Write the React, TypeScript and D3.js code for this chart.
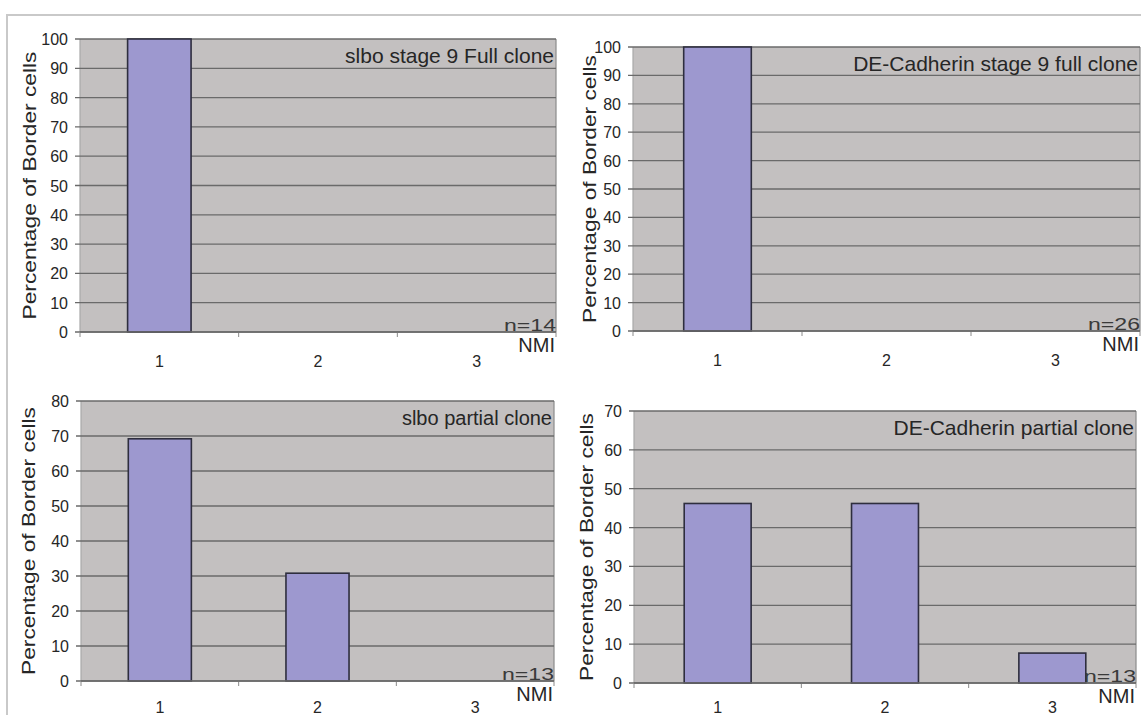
import React, { useEffect, useRef } from 'react';
import * as d3 from 'd3';

// chart data
const categories = ['1', '2', '3'];
const slboFull = [100, 0, 0];
const cadherinFull = [100, 0, 0];
const slboPartial = [69.2, 30.8, 0];
const cadherinPartial = [46.2, 46.2, 7.7];
const panelTitles = [
  'slbo stage 9 Full clone',
  'DE-Cadherin stage 9 full clone',
  'slbo partial clone',
  'DE-Cadherin partial clone',
];
const sampleSizes = ['n=14', 'n=26', 'n=13', 'n=13'];
const yMaxima = [100, 100, 80, 70];
const yTitle = 'Percentage of Border cells';
const xTitle = 'NMI';

// panel placement in the page
const layout = [
  { left: 80, right: 556, top: 39, bottom: 332, titleX: 29, titleSize: 21 },
  { left: 633, right: 1140, top: 47, bottom: 331, titleX: 589, titleSize: 21 },
  { left: 81, right: 554, top: 401, bottom: 681, titleX: 28, titleSize: 20 },
  { left: 634, right: 1136, top: 411, bottom: 683, titleX: 586, titleSize: 21 },
];

const App: React.FC = () => {
  const svgRef = useRef<SVGSVGElement | null>(null);

  useEffect(() => {
    document.body.style.margin = '0';
    if (!svgRef.current) return;
    const svg = d3.select(svgRef.current);
    svg.selectAll('*').remove();

    const font = '"Liberation Sans", Arial, sans-serif';
    const textColor = '#262626';
    const seriesList = [slboFull, cadherinFull, slboPartial, cadherinPartial];

    // outer frame
    svg.append('rect').attr('width', 1141).attr('height', 715).attr('fill', '#fff');
    svg.append('path')
      .attr('d', 'M7,716 V15 H1142')
      .attr('fill', 'none')
      .attr('stroke', '#c9c9c9')
      .attr('stroke-width', 2);

    seriesList.forEach((values, i) => {
      const L = layout[i];
      const g = svg.append('g');

      const x = d3.scaleBand<string>()
        .domain(categories)
        .range([L.left, L.right])
        .paddingInner(0.6)
        .paddingOuter(0.3);
      const step = (L.right - L.left) / categories.length;

      const y = d3.scaleLinear()
        .domain([0, yMaxima[i]])
        .range([L.bottom, L.top]);

      // plot area
      g.append('rect')
        .attr('x', L.left)
        .attr('y', L.top)
        .attr('width', L.right - L.left)
        .attr('height', L.bottom - L.top)
        .attr('fill', '#c3c0c0');
      g.append('line')
        .attr('x1', L.right).attr('x2', L.right)
        .attr('y1', L.top).attr('y2', L.bottom)
        .attr('stroke', '#8a8a8a').attr('stroke-width', 1.2);
      g.append('line')
        .attr('x1', L.left).attr('x2', L.left)
        .attr('y1', L.top).attr('y2', L.bottom)
        .attr('stroke', '#a8a8a8').attr('stroke-width', 1.2);

      // gridlines
      const ticks = d3.range(0, yMaxima[i] + 1, 10);
      g.selectAll('.grid')
        .data(ticks)
        .enter()
        .append('line')
        .attr('x1', L.left - 5)
        .attr('x2', L.right)
        .attr('y1', d => y(d))
        .attr('y2', d => y(d))
        .attr('stroke', '#6a6a6a')
        .attr('stroke-width', 1.3);

      // y tick labels
      g.selectAll('.ylab')
        .data(ticks)
        .enter()
        .append('text')
        .attr('x', L.left - 12)
        .attr('y', d => y(d) + 6)
        .attr('text-anchor', 'end')
        .attr('font-family', font)
        .attr('font-size', 16)
        .attr('fill', textColor)
        .text(d => d);

      // x tick marks at category boundaries
      g.selectAll('.xtick')
        .data(d3.range(categories.length + 1))
        .enter()
        .append('line')
        .attr('x1', d => L.left + d * step)
        .attr('x2', d => L.left + d * step)
        .attr('y1', L.bottom)
        .attr('y2', L.bottom + 5)
        .attr('stroke', '#8a8a8a')
        .attr('stroke-width', 1);

      // bars
      g.selectAll('.bar')
        .data(categories.map((c, k) => ({ c, v: values[k] })).filter(d => d.v > 0))
        .enter()
        .append('rect')
        .attr('x', d => x(d.c) as number)
        .attr('y', d => y(d.v))
        .attr('width', x.bandwidth())
        .attr('height', d => y(0) - y(d.v))
        .attr('fill', '#9d98cf')
        .attr('stroke', '#2e2e3e')
        .attr('stroke-width', 1.6);

      // x axis line
      g.append('line')
        .attr('x1', L.left).attr('x2', L.right)
        .attr('y1', L.bottom).attr('y2', L.bottom)
        .attr('stroke', '#6a6a6a').attr('stroke-width', 1.6);

      // category labels (kept inside the page at the bottom)
      g.selectAll('.xlab')
        .data(categories)
        .enter()
        .append('text')
        .attr('x', d => (x(d) as number) + x.bandwidth() / 2)
        .attr('y', Math.min(L.bottom + 35, 713))
        .attr('text-anchor', 'middle')
        .attr('font-family', font)
        .attr('font-size', 16)
        .attr('fill', textColor)
        .text(d => d);

      // panel title
      g.append('text')
        .attr('x', L.right - 2)
        .attr('y', L.top + 24)
        .attr('text-anchor', 'end')
        .attr('font-family', font)
        .attr('font-size', L.titleSize)
        .attr('fill', textColor)
        .text(panelTitles[i]);

      // sample size
      g.append('text')
        .attr('x', L.right)
        .attr('y', L.bottom - 1)
        .attr('text-anchor', 'end')
        .attr('font-family', font)
        .attr('font-size', 17)
        .attr('textLength', 52)
        .attr('lengthAdjust', 'spacingAndGlyphs')
        .attr('fill', '#3a3a3a')
        .text(sampleSizes[i]);

      // NMI
      g.append('text')
        .attr('x', L.right - 1)
        .attr('y', Math.min(L.bottom + 20, 711))
        .attr('text-anchor', 'end')
        .attr('font-family', font)
        .attr('font-size', 20)
        .attr('fill', textColor)
        .text(xTitle);

      // y title
      const cy = (L.top + L.bottom) / 2;
      g.append('text')
        .attr('transform', `translate(${L.titleX + 7},${cy}) rotate(-90)`)
        .attr('text-anchor', 'middle')
        .attr('font-family', font)
        .attr('font-size', 19)
        .attr('textLength', 268)
        .attr('lengthAdjust', 'spacingAndGlyphs')
        .attr('fill', textColor)
        .text(yTitle);
    });
  }, []);

  return <svg ref={svgRef} width={1141} height={715} style={{ display: 'block' }} />;
};

export default App;
